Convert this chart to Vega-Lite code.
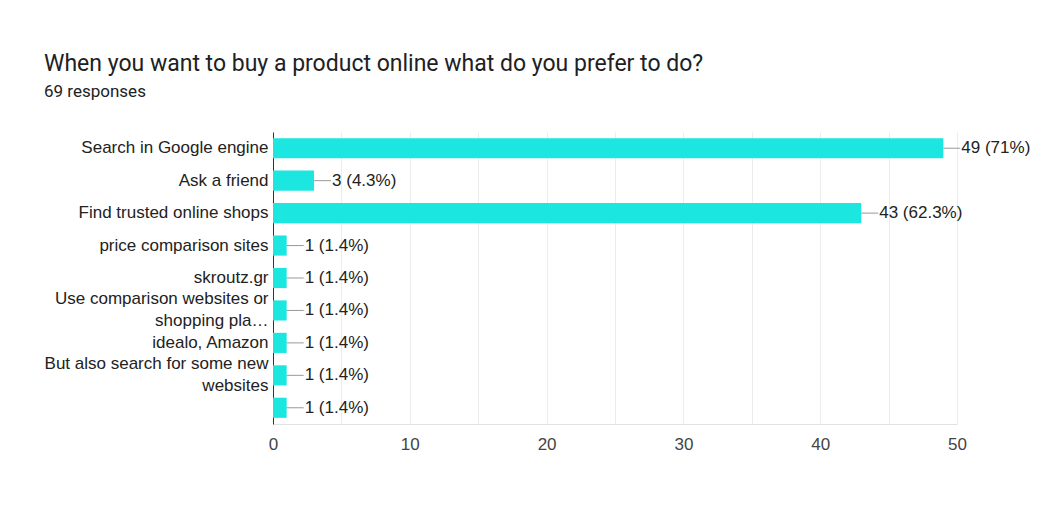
{
  "$schema": "https://vega.github.io/schema/vega-lite/v6.json",
  "width": 684,
  "height": 292,
  "autosize": {"type": "none"},
  "padding": {"left": 273, "top": 132, "right": 98, "bottom": 85},
  "background": "white",
  "title": {
    "text": "When you want to buy a product online what do you prefer to do?",
    "subtitle": "69 responses",
    "anchor": "start",
    "frame": "group",
    "dx": -229,
    "offset": 32,
    "font": "Roboto",
    "fontSize": 23,
    "fontWeight": "normal",
    "color": "#202124",
    "subtitleFont": "Roboto",
    "subtitleFontSize": 17,
    "subtitleColor": "#202124",
    "subtitlePadding": 8
  },
  "data": {
    "values": [
      {"answer": "Search in Google engine", "count": 49, "label": "49 (71%)"},
      {"answer": "Ask a friend", "count": 3, "label": "3 (4.3%)"},
      {"answer": "Find trusted online shops", "count": 43, "label": "43 (62.3%)"},
      {"answer": "price comparison sites", "count": 1, "label": "1 (1.4%)"},
      {"answer": "skroutz.gr", "count": 1, "label": "1 (1.4%)"},
      {"answer": "Use comparison websites or|shopping pla…", "count": 1, "label": "1 (1.4%)"},
      {"answer": "idealo, Amazon", "count": 1, "label": "1 (1.4%)"},
      {"answer": "But also search for some new|websites", "count": 1, "label": "1 (1.4%)"},
      {"answer": "", "count": 1, "label": "1 (1.4%)"}
    ]
  },
  "encoding": {
    "y": {
      "field": "answer",
      "type": "nominal",
      "sort": null,
      "scale": {"paddingInner": 0.38, "paddingOuter": 0.19},
      "axis": {
        "title": null,
        "ticks": false,
        "domain": true,
        "domainColor": "#333333",
        "labelFont": "Liberation Sans",
        "labelFontSize": 17,
        "labelColor": "#222222",
        "labelPadding": 5,
        "labelLimit": 400,
        "labelLineHeight": 22,
        "labelOffset": {"condition": {"test": "indexof(datum.value, '|') >= 0", "value": -11}, "value": 0},
        "labelExpr": "split(datum.label, '|')"
      }
    }
  },
  "layer": [
    {
      "mark": {"type": "bar", "color": "#1ce6e0"},
      "encoding": {
        "x": {
          "field": "count",
          "type": "quantitative",
          "scale": {"domain": [0, 50], "nice": false},
          "axis": {
            "title": null,
            "values": [0, 5, 10, 15, 20, 25, 30, 35, 40, 45, 50],
            "labelExpr": "datum.value % 10 == 0 ? datum.label : ''",
            "labelFlush": false,
            "ticks": false,
            "grid": true,
            "gridColor": "#ececec",
            "domain": true,
            "domainColor": "#e2e2e2",
            "labelFont": "Liberation Sans",
            "labelFontSize": 17,
            "labelColor": "#444444",
            "labelPadding": 12
          }
        }
      }
    },
    {
      "mark": {"type": "rule", "color": "#999999", "strokeWidth": 1, "x2Offset": 17},
      "encoding": {
        "x": {"field": "count", "type": "quantitative"},
        "x2": {"field": "count"}
      }
    },
    {
      "mark": {"type": "text", "align": "left", "baseline": "middle", "dx": 18, "font": "Liberation Sans", "fontSize": 17, "color": "#222222"},
      "encoding": {
        "x": {"field": "count", "type": "quantitative"},
        "text": {"field": "label"}
      }
    }
  ],
  "config": {"view": {"stroke": null}}
}
